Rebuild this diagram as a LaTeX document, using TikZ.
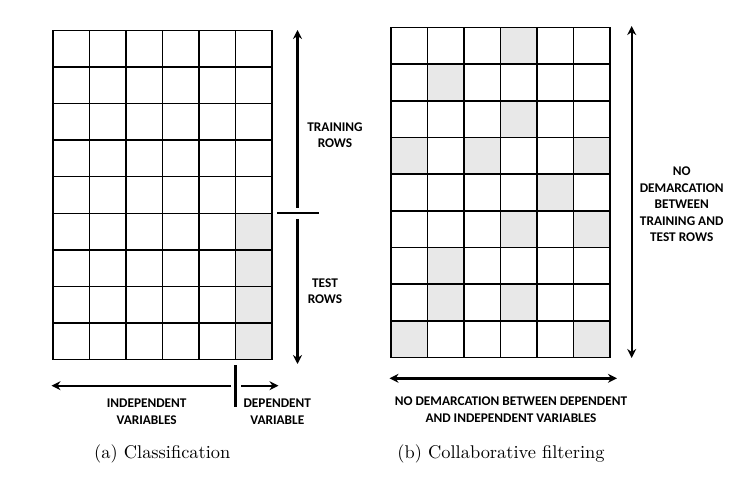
\documentclass[tikz,border=0pt]{standalone}
\usepackage{fontspec}
\newfontfamily\labfont{Carlito}
\newfontfamily\capfont{lmroman10-regular}[Extension=.otf]
\usetikzlibrary{arrows.meta}
\definecolor{cellgray}{HTML}{E8E8E8}
\tikzset{
  gridline/.style={line width=1.4pt, black},
  bigarrow/.style={line width=2.4pt, black, {Stealth[length=9pt,width=9pt]}-{Stealth[length=9pt,width=9pt]}},
  onearrow/.style={line width=2.4pt, black, -{Stealth[length=9pt,width=9pt]}},
  lab/.style={font=\labfont\bfseries\fontsize{13.3}{16.5}\selectfont, align=center, inner sep=0pt},
  captext/.style={font=\capfont\fontsize{18.4}{22}\selectfont, inner sep=0pt},
  shade/.style={fill=cellgray}
}
\begin{document}
\begin{tikzpicture}[x=1pt,y=-1pt]
\useasboundingbox (0,0) rectangle (744,478);
% ---------- left grid (classification) ----------
\def\lx{53}\def\ly{30.5}\def\cw{36.5}\def\lh{36.56}
\foreach \r in {5,6,7,8}{
  \fill[shade] (\lx+5*\cw,\ly+\r*\lh) rectangle (\lx+6*\cw,\ly+\r*\lh+\lh);
}
\foreach \c in {0,...,6}{
  \draw[gridline] (\lx+\c*\cw,\ly) -- (\lx+\c*\cw,\ly+9*\lh);
}
\foreach \r in {0,...,9}{
  \draw[gridline] (\lx,\ly+\r*\lh) -- (\lx+6*\cw,\ly+\r*\lh);
}
% ---------- right grid (collaborative filtering) ----------
\def\rx{391}\def\ry{27.5}\def\rh{36.67}
\foreach \r/\c in {0/3,1/1,2/3,3/0,3/2,3/5,4/4,5/3,5/5,6/1,7/1,7/3,8/0,8/5}{
  \fill[shade] (\rx+\c*\cw,\ry+\r*\rh) rectangle (\rx+\c*\cw+\cw,\ry+\r*\rh+\rh);
}
\foreach \c in {0,...,6}{
  \draw[gridline] (\rx+\c*\cw,\ry) -- (\rx+\c*\cw,\ry+9*\rh);
}
\foreach \r in {0,...,9}{
  \draw[gridline] (\rx,\ry+\r*\rh) -- (\rx+6*\cw,\ry+\r*\rh);
}
% ---------- coordinates ----------
\coordinate (trTop) at (297.5,30);
\coordinate (trEnd) at (297.5,208);
\coordinate (teStart) at (297.5,219);
\coordinate (teBot) at (297.5,364);
\coordinate (tickL) at (277,213.3);
\coordinate (tickR) at (319,213.3);
\coordinate (rvTop) at (631.7,26);
\coordinate (rvBot) at (631.7,358);
\coordinate (sepTop) at (235.7,365);
\coordinate (sepBot) at (235.7,407);
\coordinate (indL) at (51.5,385.7);
\coordinate (indR) at (231,385.7);
\coordinate (depL) at (241,385.7);
\coordinate (depR) at (278.5,385.7);
\coordinate (noL) at (389.5,378.3);
\coordinate (noR) at (617,378.3);
% ---------- arrows ----------
\draw[onearrow] (trEnd) -- (trTop);
\draw[onearrow] (teStart) -- (teBot);
\draw[line width=1.8pt] (tickL) -- (tickR);
\draw[bigarrow] (rvTop) -- (rvBot);
\draw[line width=2.6pt] (sepTop) -- (sepBot);
\draw[onearrow] (indR) -- (indL);
\draw[onearrow] (depL) -- (depR);
\draw[bigarrow] (noL) -- (noR);
% ---------- labels ----------
\node[lab] (training) at (335,135) {TRAINING\\ROWS};
\node[lab] (test) at (325,291) {TEST\\ROWS};
\node[lab] (nodem) at (681.7,204.5) {NO\\DEMARCATION\\BETWEEN\\TRAINING AND\\TEST ROWS};
\node[lab] (indep) at (146.7,411.5) {INDEPENDENT\\VARIABLES};
\node[lab] (dep) at (277.3,411.5) {DEPENDENT\\VARIABLE};
\node[lab] (nodv) at (511,409.5) {NO DEMARCATION BETWEEN DEPENDENT\\AND INDEPENDENT VARIABLES};
\node[captext] (capa) at (162.3,454) {(a) Classification};
\node[captext] (capb) at (501,454) {(b) Collaborative filtering};
\end{tikzpicture}
\end{document}
